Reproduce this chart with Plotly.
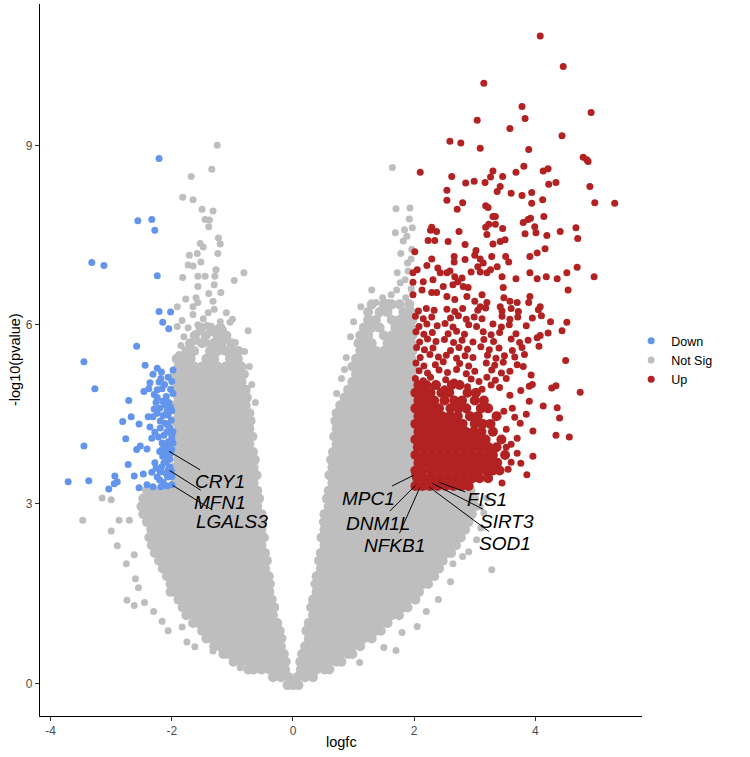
import plotly.graph_objects as go

# ---------------- DATA (logfc, -log10 pvalue) ----------------
# dense part of the "Not Sig" cloud, read row by row: (y, [x values])
grey_rows = [
    (-0.03, [-0.09, 0.00, 0.09]),
    (0.10, [-0.33, -0.20, -0.07, 0.07, 0.20, 0.33]),
    (0.23, [-0.74, -0.65, -0.52, -0.39, -0.26, -0.13, 0.13, 0.26, 0.39, 0.52, 0.60]),
    (0.36, [-0.98, -0.85, -0.72, -0.59, -0.46, -0.33, -0.20, -0.12, 0.12, 0.20, 0.33, 0.46, 0.59, 0.72, 0.80]),
    (0.49, [-1.15, -1.04, -0.91, -0.78, -0.65, -0.52, -0.39, -0.26, -0.15, 0.15, 0.26, 0.39, 0.52, 0.65, 0.78, 0.91, 0.98]),
    (0.62, [-1.30, -1.21, -1.11, -0.98, -0.85, -0.72, -0.59, -0.46, -0.33, -0.20, 0.20, 0.33, 0.46, 0.59, 0.72, 0.85, 0.98, 1.11]),
    (0.75, [-1.43, -1.30, -1.17, -1.04, -0.91, -0.78, -0.65, -0.52, -0.39, -0.26, -0.19, 0.26, 0.39, 0.52, 0.65, 0.78, 0.91, 1.04, 1.17, 1.30]),
    (0.88, [-1.50, -1.37, -1.24, -1.11, -0.98, -0.85, -0.72, -0.59, -0.46, -0.33, -0.22, 0.22, 0.33, 0.46, 0.59, 0.72, 0.85, 0.98, 1.11, 1.24, 1.37, 1.45]),
    (1.01, [-1.65, -1.56, -1.43, -1.30, -1.17, -1.04, -0.91, -0.78, -0.65, -0.52, -0.39, -0.26, 0.26, 0.39, 0.52, 0.65, 0.78, 0.91, 1.04, 1.17, 1.30, 1.43, 1.56]),
    (1.14, [-1.76, -1.63, -1.50, -1.37, -1.24, -1.11, -0.98, -0.85, -0.72, -0.59, -0.46, -0.33, 0.33, 0.46, 0.59, 0.72, 0.85, 0.98, 1.11, 1.24, 1.37, 1.50, 1.63, 1.75]),
    (1.27, [-1.82, -1.69, -1.56, -1.43, -1.30, -1.17, -1.04, -0.91, -0.78, -0.65, -0.52, -0.39, -0.31, 0.30, 0.39, 0.52, 0.65, 0.78, 0.91, 1.04, 1.17, 1.30, 1.43, 1.56, 1.69, 1.82, 1.89]),
    (1.40, [-1.89, -1.76, -1.63, -1.50, -1.37, -1.24, -1.11, -0.98, -0.85, -0.72, -0.59, -0.46, -0.35, 0.33, 0.46, 0.59, 0.72, 0.85, 0.98, 1.11, 1.24, 1.37, 1.50, 1.63, 1.76, 1.89, 2.02]),
    (1.53, [-2.02, -1.95, -1.82, -1.69, -1.56, -1.43, -1.30, -1.17, -1.04, -0.91, -0.78, -0.65, -0.52, -0.39, 0.39, 0.52, 0.65, 0.78, 0.91, 1.04, 1.17, 1.30, 1.43, 1.56, 1.69, 1.82, 1.95, 2.08]),
    (1.66, [-2.02, -1.89, -1.76, -1.63, -1.50, -1.37, -1.24, -1.11, -0.98, -0.85, -0.72, -0.59, -0.46, -0.38, 0.37, 0.46, 0.59, 0.72, 0.85, 0.98, 1.11, 1.24, 1.37, 1.50, 1.63, 1.76, 1.89, 2.02, 2.15, 2.23]),
    (1.79, [-2.08, -1.95, -1.82, -1.69, -1.56, -1.43, -1.30, -1.17, -1.04, -0.91, -0.78, -0.65, -0.52, -0.40, 0.39, 0.52, 0.65, 0.78, 0.91, 1.04, 1.17, 1.30, 1.43, 1.56, 1.69, 1.82, 1.95, 2.08, 2.21, 2.33]),
    (1.92, [-2.15, -2.02, -1.89, -1.76, -1.63, -1.50, -1.37, -1.24, -1.11, -0.98, -0.85, -0.72, -0.59, -0.46, 0.46, 0.59, 0.72, 0.85, 0.98, 1.11, 1.24, 1.37, 1.50, 1.63, 1.76, 1.89, 2.02, 2.15, 2.28, 2.41]),
    (2.05, [-2.21, -2.08, -1.95, -1.82, -1.69, -1.56, -1.43, -1.30, -1.17, -1.04, -0.91, -0.78, -0.65, -0.52, -0.43, 0.43, 0.52, 0.65, 0.78, 0.91, 1.04, 1.17, 1.30, 1.43, 1.56, 1.69, 1.82, 1.95, 2.08, 2.21, 2.34, 2.47]),
    (2.18, [-2.28, -2.15, -2.02, -1.89, -1.76, -1.63, -1.50, -1.37, -1.24, -1.11, -0.98, -0.85, -0.72, -0.59, -0.46, 0.46, 0.59, 0.72, 0.85, 0.98, 1.11, 1.24, 1.37, 1.50, 1.63, 1.76, 1.89, 2.02, 2.15, 2.28, 2.41, 2.54, 2.61]),
    (2.31, [-2.33, -2.21, -2.08, -1.95, -1.82, -1.69, -1.56, -1.43, -1.30, -1.17, -1.04, -0.91, -0.78, -0.65, -0.52, 0.52, 0.65, 0.78, 0.91, 1.04, 1.17, 1.30, 1.43, 1.56, 1.69, 1.82, 1.95, 2.08, 2.21, 2.34, 2.47, 2.60, 2.69]),
    (2.44, [-2.37, -2.28, -2.15, -2.02, -1.89, -1.76, -1.63, -1.50, -1.37, -1.24, -1.11, -0.98, -0.85, -0.72, -0.59, -0.48, 0.47, 0.59, 0.72, 0.85, 0.98, 1.11, 1.24, 1.37, 1.50, 1.63, 1.76, 1.89, 2.02, 2.15, 2.28, 2.41, 2.54, 2.67, 2.77]),
    (2.57, [-2.34, -2.21, -2.08, -1.95, -1.82, -1.69, -1.56, -1.43, -1.30, -1.17, -1.04, -0.91, -0.78, -0.65, -0.52, 0.52, 0.65, 0.78, 0.91, 1.04, 1.17, 1.30, 1.43, 1.56, 1.69, 1.82, 1.95, 2.08, 2.21, 2.34, 2.47, 2.60, 2.73, 2.84]),
    (2.70, [-2.41, -2.28, -2.15, -2.02, -1.89, -1.76, -1.63, -1.50, -1.37, -1.24, -1.11, -0.98, -0.85, -0.72, -0.59, -0.51, 0.51, 0.59, 0.72, 0.85, 0.98, 1.11, 1.24, 1.37, 1.50, 1.63, 1.76, 1.89, 2.02, 2.15, 2.28, 2.41, 2.54, 2.67, 2.80, 2.90]),
    (2.83, [-2.47, -2.34, -2.21, -2.08, -1.95, -1.82, -1.69, -1.56, -1.43, -1.30, -1.17, -1.04, -0.91, -0.78, -0.65, -0.52, 0.52, 0.65, 0.78, 0.91, 1.04, 1.17, 1.30, 1.43, 1.56, 1.69, 1.82, 1.95, 2.08, 2.21, 2.34, 2.47, 2.60, 2.73, 2.86, 2.95]),
    (2.96, [-2.50, -2.41, -2.28, -2.15, -2.02, -1.89, -1.76, -1.63, -1.50, -1.37, -1.24, -1.11, -0.98, -0.85, -0.72, -0.59, 0.59, 0.72, 0.85, 0.98, 1.11, 1.24, 1.37, 1.50, 1.63, 1.76, 1.89, 2.02, 2.15, 2.28, 2.41, 2.54, 2.67, 2.80, 2.93, 3.00]),
    (3.09, [-2.47, -2.34, -2.21, -2.08, -1.95, -1.82, -1.69, -1.56, -1.43, -1.30, -1.17, -1.04, -0.91, -0.78, -0.65, -0.56, 0.56, 0.65, 0.78, 0.91, 1.04, 1.17, 1.30, 1.43, 1.56, 1.69, 1.82, 1.95, 2.08, 2.21, 2.34, 2.47, 2.60, 2.73, 2.86, 2.99]),
    (3.22, [-2.41, -2.28, -2.15, -2.02, -1.89, -1.76, -1.63, -1.50, -1.37, -1.24, -1.11, -0.98, -0.85, -0.72, -0.59, 0.59, 0.72, 0.85, 0.98, 1.11, 1.24, 1.37, 1.50, 1.63, 1.76, 1.89, 2.02, 2.15, 2.28, 2.41, 2.54, 2.67, 2.80, 2.93]),
    (3.35, [-1.95, -1.82, -1.69, -1.56, -1.43, -1.30, -1.17, -1.04, -0.91, -0.78, -0.65, 0.65, 0.78, 0.91, 1.04, 1.17, 1.30, 1.43, 1.56, 1.69, 1.82, 1.95]),
    (3.48, [-1.89, -1.76, -1.63, -1.50, -1.37, -1.24, -1.11, -0.98, -0.85, -0.72, -0.60, 0.60, 0.72, 0.85, 0.98, 1.11, 1.24, 1.37, 1.50, 1.63, 1.76, 1.89, 1.97]),
    (3.61, [-1.95, -1.82, -1.69, -1.56, -1.43, -1.30, -1.17, -1.04, -0.91, -0.78, -0.65, 0.65, 0.78, 0.91, 1.04, 1.17, 1.30, 1.43, 1.56, 1.69, 1.82, 1.95]),
    (3.74, [-1.89, -1.76, -1.63, -1.50, -1.37, -1.24, -1.11, -0.98, -0.85, -0.72, -0.63, 0.63, 0.72, 0.85, 0.98, 1.11, 1.24, 1.37, 1.50, 1.63, 1.76, 1.89, 1.97]),
    (3.87, [-1.95, -1.82, -1.69, -1.56, -1.43, -1.30, -1.17, -1.04, -0.91, -0.78, -0.66, 0.66, 0.78, 0.91, 1.04, 1.17, 1.30, 1.43, 1.56, 1.69, 1.82, 1.95]),
    (4.00, [-1.89, -1.76, -1.63, -1.50, -1.37, -1.24, -1.11, -0.98, -0.85, -0.72, 0.72, 0.85, 0.98, 1.11, 1.24, 1.37, 1.50, 1.63, 1.76, 1.89, 1.97]),
    (4.13, [-1.95, -1.82, -1.69, -1.56, -1.43, -1.30, -1.17, -1.04, -0.91, -0.78, -0.67, 0.68, 0.78, 0.91, 1.04, 1.17, 1.30, 1.43, 1.56, 1.69, 1.82, 1.95]),
    (4.26, [-1.89, -1.76, -1.63, -1.50, -1.37, -1.24, -1.11, -0.98, -0.85, -0.72, 0.72, 0.85, 0.98, 1.11, 1.24, 1.37, 1.50, 1.63, 1.76, 1.89, 1.97]),
    (4.39, [-1.95, -1.82, -1.69, -1.56, -1.43, -1.30, -1.17, -1.04, -0.91, -0.78, -0.70, 0.70, 0.78, 0.91, 1.04, 1.17, 1.30, 1.43, 1.56, 1.69, 1.82, 1.95]),
    (4.52, [-1.89, -1.76, -1.63, -1.50, -1.37, -1.24, -1.11, -0.98, -0.85, -0.72, 0.72, 0.85, 0.98, 1.11, 1.24, 1.37, 1.50, 1.63, 1.76, 1.89, 1.97]),
    (4.65, [-1.95, -1.82, -1.69, -1.56, -1.43, -1.30, -1.17, -1.04, -0.91, -0.78, 0.78, 0.91, 1.04, 1.17, 1.30, 1.43, 1.56, 1.69, 1.82, 1.95]),
    (4.78, [-1.89, -1.76, -1.63, -1.50, -1.37, -1.24, -1.11, -0.98, -0.85, -0.76, 0.85, 0.98, 1.11, 1.24, 1.37, 1.50, 1.63, 1.76, 1.89, 1.97]),
    (4.91, [-1.95, -1.82, -1.69, -1.56, -1.43, -1.30, -1.17, -1.04, -0.91, -0.78, 0.91, 1.04, 1.17, 1.30, 1.43, 1.56, 1.69, 1.82, 1.95]),
    (5.04, [-1.89, -1.76, -1.63, -1.50, -1.37, -1.24, -1.11, -0.98, -0.85, 0.98, 1.11, 1.24, 1.37, 1.50, 1.63, 1.76, 1.89, 1.97]),
    (5.17, [-1.95, -1.82, -1.69, -1.56, -1.43, -1.30, -1.17, -1.04, -0.91, -0.81, 1.04, 1.17, 1.30, 1.43, 1.56, 1.69, 1.82, 1.95]),
    (5.30, [-1.89, -1.76, -1.63, -1.50, -1.37, -1.24, -1.11, -0.98, -0.85, 0.98, 1.11, 1.24, 1.37, 1.50, 1.63, 1.76, 1.89, 1.97]),
    (5.43, [-1.92, -1.82, -1.69, -1.43, -1.30, -1.04, -0.91, 1.04, 1.17, 1.30, 1.43, 1.56, 1.69, 1.82, 1.95]),
    (5.56, [-1.76, -1.63, -1.37, -1.24, -1.11, -0.98, -0.90, 1.11, 1.24, 1.37, 1.50, 1.63, 1.76, 1.89, 1.97]),
    (5.69, [-1.70, -1.50, -1.31, -1.18, -1.02, 1.08, 1.17, 1.30, 1.56, 1.69, 1.82, 1.95]),
    (5.82, [-1.62, -1.44, -1.25, -1.10, 1.11, 1.24, 1.50, 1.63, 1.76, 1.89, 1.97]),
    (5.95, [-1.52, -1.36, -1.20, 1.17, 1.30, 1.43, 1.69, 1.82, 1.95]),
    (6.08, [1.24, 1.37, 1.63, 1.76, 1.89, 1.97]),
    (6.21, [1.24, 1.43, 1.56, 1.82, 1.95]),
    (6.34, [1.30, 1.50, 1.63, 1.76, 1.92]),
]

# scattered "Not Sig" genes (x, y)
grey_points = [
    (-1.25, 9.00), (-1.34, 8.60), (-1.68, 8.48), (-1.82, 8.13), (-1.65, 8.09), (-1.50, 7.93), (-1.32, 7.90),
    (-1.45, 7.76), (-1.38, 7.75), (-1.39, 7.64), (-1.23, 7.45), (-1.20, 7.35), (-1.53, 7.36), (-1.48, 7.30),
    (-1.24, 7.19), (-1.71, 7.16), (-1.58, 7.19), (-1.52, 7.05), (-1.73, 7.00), (-1.65, 6.98), (-1.27, 6.92),
    (-0.81, 6.87), (-1.82, 6.79), (-1.57, 6.81), (-1.45, 6.81), (-1.29, 6.81), (-0.97, 6.74), (-1.57, 6.64),
    (-1.30, 6.67), (-1.19, 6.54), (-1.39, 6.52), (-1.77, 6.43), (-1.60, 6.45), (-1.57, 6.37), (-1.32, 6.39),
    (-1.65, 6.30), (-1.91, 6.30), (-1.40, 6.20), (-1.30, 6.26), (-1.10, 6.20), (-1.00, 6.09), (-1.04, 6.04),
    (-1.83, 6.07), (-1.65, 6.17), (-1.91, 5.97), (-1.73, 5.95), (-1.57, 6.00), (-1.42, 5.99), (-1.29, 5.92),
    (-0.74, 5.90), (-1.80, 5.80), (-1.57, 5.87), (-1.34, 5.87), (-1.15, 5.92), (-1.62, 5.72), (-1.55, 5.72),
    (-1.40, 5.69), (-1.29, 5.67), (-1.10, 5.75), (-0.95, 5.70), (-1.20, 5.60), (-1.85, 5.65),
    (-0.72, 5.30), (-0.80, 5.55), (-0.68, 5.00), (-0.62, 4.70), (-1.48, 6.10), (-1.20, 6.05), (-1.88, 5.50),
    (1.64, 8.63), (1.70, 7.94), (1.92, 7.77), (1.69, 7.54), (1.84, 7.59), (1.88, 7.48), (1.96, 7.26),
    (1.78, 7.19), (1.89, 7.03), (1.72, 6.87), (1.30, 6.58), (1.37, 6.37), (1.57, 6.37), (1.77, 6.70),
    (1.71, 6.58), (1.90, 6.90), (1.85, 6.75), (1.95, 6.60), (1.62, 6.50), (1.48, 6.45), (1.86, 6.45),
    (1.95, 7.10), (1.82, 7.40), (1.97, 7.62), (1.93, 7.95),
    (0.80, 5.10), (0.88, 5.45), (0.95, 5.80), (1.00, 6.05), (0.72, 4.85), (0.85, 5.25), (1.12, 6.30),
    (-3.47, 2.73), (-3.15, 3.10), (-3.00, 3.07), (-2.87, 2.73), (-2.70, 2.73), (-2.74, 1.39), (-2.62, 1.30),
    (-2.16, 1.04), (-2.06, 0.88), (-1.83, 0.94), (-1.75, 0.69), (-1.62, 0.61), (-1.36, 0.73), (-1.32, 0.54),
    (-1.09, 0.47), (-0.87, 0.26), (-2.90, 2.30), (-2.75, 2.00), (-2.60, 1.75), (-3.00, 2.55), (-2.62, 2.15),
    (-2.55, 1.60), (-2.45, 1.35), (-2.30, 1.20),
    (2.80, 2.12), (3.28, 1.90), (3.09, 2.95), (2.64, 2.00), (2.90, 2.20), (3.03, 2.40), (2.40, 1.40),
    (2.20, 1.20), (1.80, 0.85), (1.50, 0.60), (1.10, 0.35), (2.60, 1.70), (3.10, 2.60), (3.15, 2.85),
    (3.20, 3.10), (2.05, 0.95), (1.70, 0.55),
]

# "Down" genes (x, y)
blue_points = [
    (-2.21, 8.78), (-2.56, 7.74), (-2.33, 7.76), (-2.28, 7.58), (-3.32, 7.04), (-3.12, 6.99), (-2.24, 6.82),
    (-2.21, 6.22), (-2.02, 6.21), (-2.15, 6.04), (-2.05, 5.93), (-2.58, 5.64), (-3.45, 5.38), (-3.27, 4.93),
    (-2.44, 5.32), (-2.24, 5.27), (-2.17, 5.21), (-2.31, 5.17), (-1.98, 5.24), (-2.21, 5.04), (-2.36, 5.03),
    (-2.38, 4.93), (-2.46, 4.88), (-2.24, 4.91), (-2.16, 4.93), (-2.29, 4.83), (-2.24, 4.78), (-1.98, 4.85),
    (-2.71, 4.73), (-2.29, 4.59), (-2.24, 4.52), (-2.31, 4.46), (-2.39, 4.46), (-2.00, 4.56), (-2.06, 4.49),
    (-2.67, 4.46), (-2.81, 4.38), (-2.54, 4.34), (-2.19, 4.39), (-2.11, 4.35), (-2.36, 4.29), (-2.19, 4.27),
    (-2.03, 4.27), (-2.08, 4.21), (-1.98, 4.21), (-2.76, 4.09), (-2.33, 4.10), (-2.00, 4.14), (-2.16, 4.02),
    (-2.06, 4.04), (-1.98, 4.02), (-3.45, 3.97), (-2.52, 3.97), (-2.58, 3.91), (-2.41, 3.92), (-2.16, 3.91),
    (-2.10, 3.84), (-2.00, 3.91), (-2.06, 3.77), (-2.72, 3.66), (-2.28, 3.69), (-2.13, 3.69), (-2.03, 3.62),
    (-2.94, 3.47), (-2.62, 3.47), (-2.47, 3.50), (-2.33, 3.53), (-2.19, 3.54), (-2.10, 3.52), (-2.00, 3.46),
    (-3.71, 3.37), (-3.37, 3.39), (-2.90, 3.37), (-2.95, 3.34), (-3.04, 3.25), (-2.54, 3.27), (-2.41, 3.32),
    (-2.31, 3.29), (-2.18, 3.29), (-2.08, 3.30), (-2.00, 3.32), (-2.12, 4.65), (-2.05, 4.70), (-2.10, 4.00),
    (-2.05, 3.60), (-2.20, 3.40), (-2.12, 3.95), (-2.03, 3.75), (-2.15, 3.80), (-2.06, 3.89), (-2.05, 3.57),
    (-2.00, 5.05), (-2.06, 5.12), (-2.12, 5.00), (-2.02, 4.92), (-2.09, 4.80), (-2.15, 4.72), (-2.02, 4.62),
    (-2.08, 4.55), (-2.14, 4.48), (-2.01, 4.40), (-2.07, 4.32), (-2.13, 4.15), (-2.00, 4.08), (-2.06, 3.98),
    (-2.20, 3.88), (-2.03, 3.84), (-2.09, 3.70), (-2.17, 3.62), (-2.01, 3.55), (-2.07, 3.45), (-2.14, 3.36),
    (-2.24, 3.45), (-2.26, 3.60), (-2.22, 4.12), (-2.28, 4.20), (-2.20, 4.60), (-2.26, 4.70), (-2.18, 5.10),
]

# dense core of the "Up" genes, row by row
red_rows = [
    (3.30, [2.02, 2.14, 2.26, 2.39, 2.52, 2.65, 2.78, 2.90]),
    (3.43, [2.05, 2.18, 2.31, 2.44, 2.57, 2.70, 2.83, 2.96, 3.08, 3.22]),
    (3.56, [2.02, 2.13, 2.27, 2.40, 2.53, 2.66, 2.79, 2.92, 3.05, 3.18, 3.30, 3.41]),
    (3.69, [2.07, 2.20, 2.33, 2.46, 2.59, 2.72, 2.85, 2.98, 3.11, 3.24, 3.37]),
    (3.82, [2.02, 2.15, 2.28, 2.41, 2.54, 2.67, 2.80, 2.93, 3.06, 3.19, 3.30, 3.50]),
    (3.95, [2.06, 2.19, 2.32, 2.45, 2.58, 2.71, 2.84, 2.97, 3.10, 3.23, 3.36]),
    (4.08, [2.02, 2.14, 2.27, 2.40, 2.53, 2.66, 2.79, 2.92, 3.05, 3.18, 3.44]),
    (4.21, [2.07, 2.20, 2.33, 2.46, 2.59, 2.72, 2.85, 2.98, 3.11, 3.30]),
    (4.34, [2.02, 2.15, 2.28, 2.41, 2.54, 2.67, 2.80, 3.00, 3.13, 3.26]),
    (4.47, [2.07, 2.20, 2.33, 2.46, 2.59, 2.72, 2.92, 3.05, 3.36]),
    (4.60, [2.02, 2.15, 2.28, 2.41, 2.60, 2.73, 2.86, 3.10, 3.22]),
    (4.73, [2.07, 2.20, 2.33, 2.50, 2.66, 2.79, 3.00, 3.15]),
    (4.86, [2.02, 2.14, 2.27, 2.45, 2.58, 2.88, 3.02]),
    (4.99, [2.07, 2.20, 2.36, 2.62, 2.75]),
]

# scattered "Up" genes (x, y)
red_points = [
    (2.33, 4.97), (2.50, 4.93), (2.88, 4.96), (3.12, 4.92), (3.27, 4.99), (3.41, 4.95), (3.76, 4.90), (3.90, 4.97),
    (2.02, 5.10), (2.15, 5.06), (2.27, 5.12), (2.52, 5.08), (2.66, 5.04), (2.94, 5.09), (3.07, 5.05), (3.20, 5.12),
    (3.34, 5.07), (3.52, 5.10), (2.08, 5.23), (2.22, 5.19), (2.41, 5.24), (2.55, 5.20), (2.70, 5.25), (2.86, 5.18),
    (3.00, 5.22), (3.28, 5.24), (3.44, 5.19), (3.58, 5.22), (2.03, 5.36), (2.16, 5.31), (2.35, 5.33), (2.48, 5.38),
    (2.75, 5.35), (2.90, 5.31), (3.19, 5.36), (3.33, 5.32), (3.47, 5.37), (3.70, 5.33), (2.10, 5.45), (2.26, 5.50),
    (2.40, 5.46), (2.53, 5.49), (2.70, 5.44), (2.84, 5.48), (2.97, 5.45), (3.21, 5.49), (3.35, 5.44), (3.49, 5.48),
    (3.66, 5.46), (3.82, 5.50), (2.04, 5.62), (2.17, 5.58), (2.31, 5.61), (2.60, 5.57), (2.74, 5.62), (2.88, 5.59),
    (3.10, 5.63), (3.24, 5.58), (3.40, 5.61), (3.62, 5.57), (3.78, 5.62), (2.09, 5.71), (2.22, 5.76), (2.36, 5.72),
    (2.50, 5.75), (2.65, 5.70), (2.79, 5.74), (2.97, 5.71), (3.15, 5.75), (3.31, 5.72), (3.60, 5.76), (3.74, 5.70),
    (3.88, 5.74), (2.03, 5.88), (2.16, 5.84), (2.30, 5.87), (2.56, 5.85), (2.70, 5.89), (2.83, 5.84), (3.14, 5.88),
    (3.27, 5.83), (3.41, 5.87), (3.68, 5.85), (2.08, 5.97), (2.21, 6.01), (2.38, 5.98), (2.51, 6.02), (2.64, 5.96),
    (2.90, 6.00), (3.03, 5.97), (3.30, 6.01), (3.44, 5.96), (3.57, 6.00), (3.85, 5.98), (2.02, 6.14), (2.15, 6.10),
    (2.29, 6.13), (2.60, 6.11), (2.73, 6.15), (2.86, 6.09), (2.99, 6.13), (3.12, 6.10), (3.45, 6.14), (3.58, 6.09),
    (3.71, 6.13), (3.95, 6.11), (2.07, 6.23), (2.20, 6.27), (2.33, 6.24), (2.54, 6.26), (2.67, 6.22), (2.80, 6.27),
    (3.05, 6.24), (3.18, 6.28), (3.45, 6.23), (3.60, 6.27), (3.72, 6.22), (4.05, 6.25),
    (4.08, 10.83), (4.46, 10.32), (3.15, 10.04), (3.78, 9.65), (3.83, 9.45), (4.92, 9.55), (3.04, 9.42),
    (3.58, 9.28), (4.44, 9.16), (2.59, 9.07), (2.77, 9.04), (3.09, 8.95), (3.89, 8.93), (4.79, 8.80),
    (4.87, 8.73), (3.81, 8.65), (4.21, 8.61), (4.85, 8.76),
    (2.10, 8.55), (2.62, 8.48), (2.85, 8.37), (2.99, 8.40), (3.17, 8.38), (3.30, 8.57), (3.26, 8.47),
    (3.46, 8.48), (3.68, 8.55), (4.13, 8.57), (4.22, 8.35), (4.34, 8.38), (4.90, 8.31), (4.98, 8.04),
    (5.31, 8.03), (2.54, 8.25), (2.54, 8.08), (2.80, 8.04), (2.71, 7.93), (3.37, 8.23), (3.42, 8.31),
    (3.60, 8.20), (3.78, 8.16), (3.94, 8.21), (3.94, 8.03), (4.12, 8.09), (3.18, 7.99), (3.22, 7.96),
    (3.30, 7.81), (3.34, 7.81), (3.80, 7.71), (3.88, 7.76), (3.92, 7.78), (4.14, 7.81), (3.99, 7.64),
    (3.83, 7.52), (4.01, 7.54), (4.19, 7.49), (4.41, 7.56), (4.67, 7.62), (4.70, 7.44), (2.29, 7.63),
    (2.27, 7.58), (2.37, 7.56), (2.23, 7.41), (2.34, 7.41), (2.74, 7.56), (3.18, 7.63), (3.23, 7.68),
    (3.34, 7.68), (3.46, 7.61), (3.20, 7.51), (3.42, 7.39), (3.50, 7.42), (3.30, 7.35), (2.56, 7.39),
    (2.84, 7.34), (3.02, 7.24), (3.00, 7.16), (2.01, 7.22), (2.66, 7.14), (2.66, 7.05), (2.84, 7.09),
    (3.09, 7.10), (3.14, 7.03), (3.28, 7.14), (3.51, 7.14), (3.56, 7.05), (3.91, 7.14), (4.03, 7.20),
    (4.16, 7.27), (2.29, 7.10), (2.05, 6.92), (1.98, 6.87), (2.21, 6.99), (2.39, 6.95), (2.43, 6.87),
    (2.54, 6.87), (2.59, 6.90), (2.67, 6.80), (2.79, 6.78), (2.94, 6.88), (3.05, 6.97), (3.09, 6.88),
    (3.20, 6.87), (3.37, 6.97), (3.26, 6.92), (3.45, 6.80), (3.68, 6.77), (3.91, 6.87), (4.03, 6.77),
    (4.18, 6.80), (4.36, 6.77), (4.52, 6.87), (4.69, 6.96), (4.97, 6.80), (4.54, 6.58), (1.98, 6.71),
    (2.15, 6.72), (2.31, 6.75), (2.13, 6.58), (2.29, 6.54), (2.48, 6.64), (2.64, 6.67), (2.72, 6.72),
    (2.81, 6.64), (2.89, 6.62), (1.98, 6.50), (2.37, 6.54), (2.54, 6.47), (2.67, 6.42), (2.87, 6.47),
    (3.00, 6.39), (3.12, 6.50), (3.20, 6.37), (3.47, 6.62), (3.48, 6.45), (3.58, 6.39), (3.70, 6.37),
    (3.91, 6.47), (3.89, 6.37), (4.08, 6.30), (3.09, 6.30), (3.42, 6.30),
    (4.52, 6.04), (4.44, 5.90), (4.50, 5.40), (4.74, 4.87), (4.34, 4.98), (4.27, 4.94), (4.13, 4.64),
    (4.36, 4.61), (4.40, 4.44), (3.96, 4.22), (4.34, 4.15), (4.56, 4.12), (4.21, 5.86), (4.08, 5.82),
    (4.03, 5.78), (4.06, 5.64), (3.93, 5.16), (3.62, 4.60), (3.75, 4.35), (3.70, 4.10), (3.85, 4.50),
    (3.60, 4.00), (3.95, 5.00), (3.80, 5.30), (4.10, 6.15), (4.25, 6.05),
    (3.60, 3.70), (3.76, 3.68), (3.86, 3.49), (3.96, 3.80), (3.70, 3.85), (3.55, 3.58), (3.45, 3.35),
    (3.52, 4.25), (3.48, 4.55), (3.58, 4.82), (3.66, 4.45), (3.90, 4.72), (3.52, 3.95),
    (2.01, 3.49), (2.03, 3.32), (2.10, 3.29), (2.39, 3.37), (2.29, 3.35), (2.24, 3.29),
]

# labelled genes
label_genes = ["CRY1", "MFN1", "LGALS3", "MPC1", "DNM1L", "NFKB1", "FIS1", "SIRT3", "SOD1"]
label_logfc = [-2.06, -2.05, -2.00, 2.01, 2.03, 2.10, 2.39, 2.29, 2.24]
label_logp = [3.89, 3.57, 3.32, 3.49, 3.32, 3.29, 3.37, 3.35, 3.29]

x_ticks = [-4, -2, 0, 2, 4]
y_ticks = [0, 3, 6, 9]

# ---------------- LAYOUT / STYLE ----------------
# where each label's text sits (data coordinates of the text centre)
label_text_pos = [(-1.20, 3.37), (-1.21, 3.03), (-1.01, 2.70), (1.24, 3.10), (1.40, 2.68),
                  (1.67, 2.31), (3.20, 3.07), (3.53, 2.71), (3.50, 2.34)]

FONT = "Liberation Sans, Arial, Helvetica, sans-serif"
COL_DOWN = "#6495ED"
COL_NS = "#BEBEBE"
COL_UP = "#B22222"


def from_rows(rows):
    xs, ys = [], []
    for yv, row in rows:
        xs.extend(row)
        ys.extend([yv] * len(row))
    return xs, ys


def from_points(points):
    return [p[0] for p in points], [p[1] for p in points]


fig = go.Figure()

gx, gy = from_rows(grey_rows)
fig.add_trace(go.Scatter(x=gx, y=gy, mode="markers", name="Not Sig", legendgroup="ns",
                         showlegend=False, hoverinfo="skip",
                         marker=dict(color=COL_NS, size=10, line=dict(width=0))))
gx2, gy2 = from_points(grey_points)
fig.add_trace(go.Scatter(x=gx2, y=gy2, mode="markers", name="Not Sig", legendgroup="ns",
                         legendrank=2, marker=dict(color=COL_NS, size=7, line=dict(width=0))))

bx, by = from_points(blue_points)
fig.add_trace(go.Scatter(x=bx, y=by, mode="markers", name="Down", legendgroup="down",
                         legendrank=1, marker=dict(color=COL_DOWN, size=7, line=dict(width=0))))

rx, ry = from_rows(red_rows)
fig.add_trace(go.Scatter(x=rx, y=ry, mode="markers", name="Up", legendgroup="up",
                         showlegend=False, marker=dict(color=COL_UP, size=10, line=dict(width=0))))
rx3, ry3 = from_points(red_points)
fig.add_trace(go.Scatter(x=rx3, y=ry3, mode="markers", name="Up", legendgroup="up",
                         legendrank=3, marker=dict(color=COL_UP, size=7, line=dict(width=0))))

for g, lx, ly, (tx, ty) in zip(label_genes, label_logfc, label_logp, label_text_pos):
    fig.add_annotation(x=lx, y=ly, ax=tx, ay=ty, xref="x", yref="y", axref="x", ayref="y",
                       text="<i>" + g + "</i>", showarrow=True, arrowhead=0, arrowwidth=1,
                       arrowcolor="black", standoff=1,
                       font=dict(family=FONT, size=19, color="black"))

# axis titles placed like ggplot's (centred on the panel)
fig.add_annotation(text="logfc", xref="paper", yref="paper", x=0.5, y=-0.036, showarrow=False,
                   xanchor="center", yanchor="middle", font=dict(family=FONT, size=14.5, color="black"))
fig.add_annotation(text="-log10(pvalue)", xref="paper", yref="paper", x=-0.0415, y=0.5,
                   showarrow=False, textangle=-90, xanchor="center", yanchor="middle",
                   font=dict(family=FONT, size=14.5, color="black"))

fig.update_layout(
    width=750, height=757,
    margin=dict(l=40, r=108, t=4, b=41),
    plot_bgcolor="white", paper_bgcolor="white",
    font=dict(family=FONT),
    showlegend=True,
    legend=dict(x=0.982, xanchor="left", y=0.5, yanchor="middle", tracegroupgap=0,
                bgcolor="rgba(0,0,0,0)", font=dict(size=12.5, color="black", family=FONT),
                title=dict(text="")),
    hovermode=False,
)
fig.update_xaxes(range=[-4.175, 5.76], tickvals=x_ticks, ticktext=[str(v) for v in x_ticks],
                 showgrid=False, zeroline=False, showline=True, linecolor="black", linewidth=1.1,
                 ticks="outside", ticklen=4, tickwidth=1.1, tickcolor="#333333",
                 tickfont=dict(size=12, color="#4D4D4D", family=FONT), automargin=False)
fig.update_yaxes(range=[-0.547, 11.365], tickvals=y_ticks, ticktext=[str(v) for v in y_ticks],
                 showgrid=False, zeroline=False, showline=True, linecolor="black", linewidth=1.1,
                 ticks="outside", ticklen=4, tickwidth=1.1, tickcolor="#333333",
                 tickfont=dict(size=12, color="#4D4D4D", family=FONT), automargin=False)

fig.write_html("out.html")
